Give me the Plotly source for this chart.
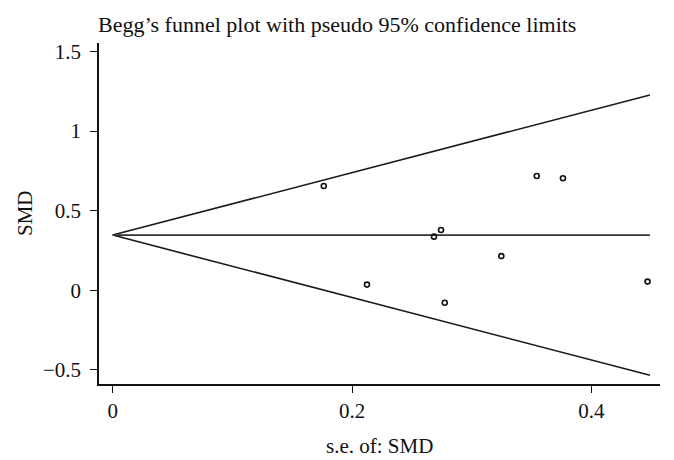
import plotly.graph_objects as go

se = [0.1764, 0.2125, 0.2685, 0.2744, 0.2775, 0.3248, 0.3544, 0.3763, 0.447]
smd = [0.655, 0.036, 0.337, 0.379, -0.078, 0.215, 0.718, 0.704, 0.055]
theta = 0.347
se_max = 0.449

x_ticks = [0, 0.2, 0.4]
x_ticklabels = ["0", "0.2", "0.4"]
y_ticks = [-0.5, 0, 0.5, 1, 1.5]
y_ticklabels = ["\u22120.5", "0", "0.5", "1", "1.5"]

FONT = "Liberation Serif"
line_style = dict(color="#1a1a1a", width=1.6)

fig = go.Figure()
fig.add_trace(go.Scatter(x=[0, se_max], y=[theta, theta + 1.96 * se_max], mode="lines", line=line_style, hoverinfo="skip"))
fig.add_trace(go.Scatter(x=[0, se_max], y=[theta, theta - 1.96 * se_max], mode="lines", line=line_style, hoverinfo="skip"))
fig.add_trace(go.Scatter(x=[0, se_max], y=[theta, theta], mode="lines", line=dict(color="#333333", width=1.6), hoverinfo="skip"))
fig.add_trace(go.Scatter(x=se, y=smd, mode="markers",
                         marker=dict(symbol="circle-open", size=5, color="#111111", line=dict(width=1.6))))

# page body has an 8px margin, so the figure is drawn at (8, 8)
fig.update_layout(
    width=666, height=452,
    margin=dict(l=91, r=14, t=35, b=76),
    paper_bgcolor="white", plot_bgcolor="white",
    showlegend=False,
    font=dict(family=FONT, size=20, color="#111111"),
)
fig.update_xaxes(range=[-0.01145, 0.4574], tickvals=x_ticks, ticktext=x_ticklabels,
                 showgrid=False, zeroline=False, showline=True, linecolor="#111111", linewidth=1.6,
                 ticks="outside", ticklen=7, tickwidth=1.4, tickcolor="#111111",
                 ticklabelstandoff=0,
                 tickfont=dict(family=FONT, size=21))
fig.update_yaxes(range=[-0.588, 1.553], tickvals=y_ticks, ticktext=y_ticklabels,
                 showgrid=False, zeroline=False, showline=True, linecolor="#111111", linewidth=1.6,
                 ticks="outside", ticklen=7, tickwidth=1.4, tickcolor="#111111",
                 ticklabelstandoff=5,
                 tickfont=dict(family=FONT, size=21))

fig.add_annotation(text="Begg\u2019s funnel plot with pseudo 95% confidence limits",
                   xref="paper", yref="paper", x=0, xshift=-3, y=1, yshift=19, xanchor="left", yanchor="middle",
                   showarrow=False, font=dict(family=FONT, size=22))
fig.add_annotation(text="SMD", xref="paper", yref="paper", x=0, xshift=-74, y=(384 - 213) / 341,
                   textangle=-90, xanchor="center", yanchor="middle", showarrow=False,
                   font=dict(family=FONT, size=21))
fig.add_annotation(text="s.e. of: SMD", xref="paper", yref="paper", x=0.5, y=0, yshift=-62,
                   xanchor="center", yanchor="middle", showarrow=False,
                   font=dict(family=FONT, size=21))

fig.write_html("out.html")
